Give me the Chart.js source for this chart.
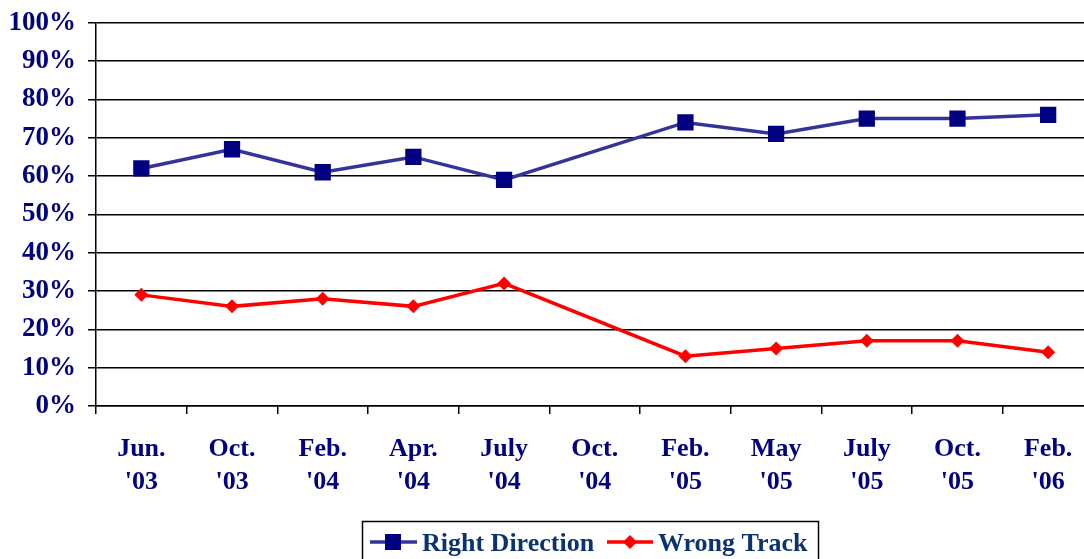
<!DOCTYPE html>
<html>
<head>
<meta charset="utf-8">
<script src="https://cdn.jsdelivr.net/npm/chart.js@4/dist/chart.umd.min.js"></script>
<style>
html,body{margin:0;padding:0;background:#fff;overflow:hidden;}
#wrap{width:1105px;height:559px;}
</style>
</head>
<body>
<div id="wrap"><canvas id="c" width="1105" height="559"></canvas></div>
<script>
const categories = [["Jun.","'03"],["Oct.","'03"],["Feb.","'04"],["Apr.","'04"],["July","'04"],["Oct.","'04"],["Feb.","'05"],["May","'05"],["July","'05"],["Oct.","'05"],["Feb.","'06"]];
const rightDirection = [62, 67, 61, 65, 59, null, 74, 71, 75, 75, 76];
const wrongTrack = [29, 26, 28, 26, 32, null, 13, 15, 17, 17, 14];
const yTicks = [0,10,20,30,40,50,60,70,80,90,100];

const FONT = "'Liberation Serif','Times New Roman',serif";

const legendBox = {
  id: 'legendBox',
  afterDraw(chart) {
    const ctx = chart.ctx;
    ctx.save();
    ctx.strokeStyle = '#000';
    ctx.lineWidth = 1.5;
    ctx.strokeRect(362.5, 521.5, 456, 50);
    ctx.font = 'bold 26px ' + FONT;
    ctx.textBaseline = 'alphabetic';
    const ds = chart.data.datasets;
    const cy = 542;
    ctx.strokeStyle = ds[0].borderColor; ctx.lineWidth = 3.5;
    ctx.beginPath(); ctx.moveTo(370, cy); ctx.lineTo(417, cy); ctx.stroke();
    ctx.fillStyle = ds[0].pointBackgroundColor;
    ctx.fillRect(393 - 8, cy - 8, 16, 16);
    ctx.fillStyle = '#0b3370';
    ctx.fillText(ds[0].label, 422, 551);
    ctx.strokeStyle = ds[1].borderColor;
    ctx.beginPath(); ctx.moveTo(607, cy); ctx.lineTo(653, cy); ctx.stroke();
    ctx.fillStyle = ds[1].pointBackgroundColor;
    ctx.beginPath(); ctx.moveTo(630, cy - 7); ctx.lineTo(637, cy); ctx.lineTo(630, cy + 7); ctx.lineTo(623, cy); ctx.closePath(); ctx.fill();
    ctx.fillStyle = '#0b3370';
    ctx.fillText(ds[1].label, 658, 551);
    ctx.restore();
  }
};

new Chart(document.getElementById('c'), {
  type: 'line',
  data: {
    labels: categories,
    datasets: [
      {
        label: 'Right Direction',
        data: rightDirection,
        borderColor: '#333399',
        borderWidth: 3.5,
        pointStyle: 'rect',
        pointRadius: 11.5,
        pointBackgroundColor: '#000080',
        pointBorderColor: '#000080',
        pointBorderWidth: 0,
        spanGaps: true,
        tension: 0
      },
      {
        label: 'Wrong Track',
        data: wrongTrack,
        borderColor: '#ff0000',
        borderWidth: 3.5,
        pointStyle: 'rectRot',
        pointRadius: 7,
        pointBackgroundColor: '#ff0000',
        pointBorderColor: '#ff0000',
        pointBorderWidth: 0,
        spanGaps: true,
        tension: 0
      }
    ]
  },
  options: {
    responsive: false,
    animation: false,
    events: [],
    layout: { padding: { top: 22, left: 0, right: 0, bottom: 0 } },
    plugins: { legend: { display: false }, tooltip: { enabled: false } },
    scales: {
      x: {
        type: 'category',
        offset: true,
        grid: { offset: true, drawOnChartArea: false, drawTicks: true, tickLength: 8, color: '#000', lineWidth: 1.5 },
        border: { display: true, color: '#000', width: 1.5 },
        ticks: { color: '#000080', font: { family: FONT, size: 26, weight: 'bold', lineHeight: 1.3 }, padding: 18, maxRotation: 0, autoSkip: false },
        afterFit(scale) { scale.height = 153; }
      },
      y: {
        min: 0, max: 100,
        afterBuildTicks(scale) { scale.ticks = yTicks.map(v => ({ value: v })); },
        grid: { color: '#000', lineWidth: 1.5, tickLength: 8 },
        border: { display: true, color: '#000', width: 1.5 },
        ticks: { color: '#000080', font: { family: FONT, size: 27, weight: 'bold', lineHeight: 0.8 }, padding: 12, callback: v => v + '%' },
        afterFit(scale) { scale.width = 96; }
      }
    }
  },
  plugins: [legendBox]
});
</script>
</body>
</html>
